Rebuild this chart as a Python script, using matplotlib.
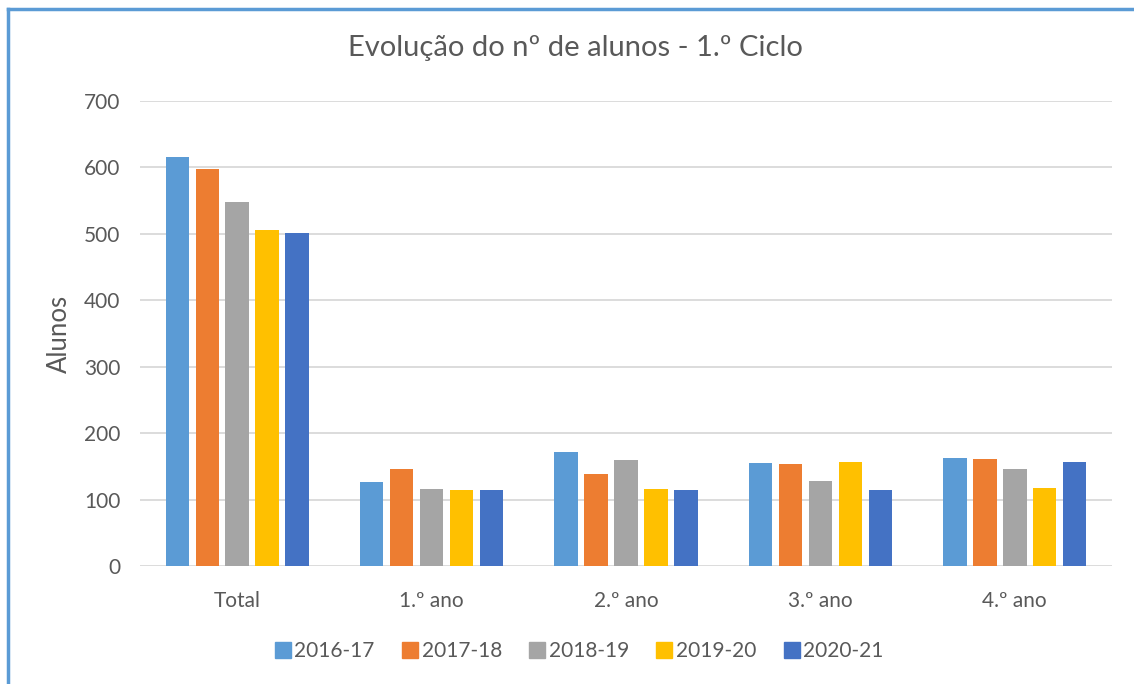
import numpy as np
import matplotlib
matplotlib.use("Agg")
import matplotlib.pyplot as plt
from matplotlib.lines import Line2D

plt.rcParams['font.family'] = ['Lato', 'DejaVu Sans']

# ---- data ----
categories = ["Total", "1.º ano", "2.º ano", "3.º ano", "4.º ano"]
series = ["2016-17", "2017-18", "2018-19", "2019-20", "2020-21"]
v_2016 = [616, 127, 171, 155, 163]
v_2017 = [598, 146, 139, 154, 161]
v_2018 = [548, 116, 160, 128, 146]
v_2019 = [506, 115, 116, 157, 118]
v_2020 = [501, 115, 115, 115, 157]
values = [v_2016, v_2017, v_2018, v_2019, v_2020]
colors = ["#5B9BD5", "#ED7D31", "#A5A5A5", "#FFC000", "#4472C4"]

txt = "#595959"
W, H = 1134, 684
fig = plt.figure(figsize=(W / 100, H / 100), dpi=100)
ax = fig.add_axes([140 / W, 1 - 566 / H, (1112 - 140) / W, (566 - 101) / H])

x = np.arange(len(categories))
step, width = 0.154, 0.121
for i, (name, vals) in enumerate(zip(series, values)):
    ax.bar(x + (i - 2) * step, vals, width, color=colors[i], label=name, zorder=3)

ax.set_xlim(-0.5, len(categories) - 0.5)
ax.set_ylim(0, 700)
ax.set_yticks(range(0, 701, 100))
ax.set_xticks(x)
ax.set_xticklabels(categories)
ax.grid(axis='y', color="#D9D9D9", linewidth=1.3, zorder=0)
for s in ax.spines.values():
    s.set_visible(False)
ax.tick_params(axis='both', length=0, labelsize=15, colors=txt)
ax.tick_params(axis='y', pad=14)
ax.tick_params(axis='x', pad=18)
ax.set_ylabel("Alunos", fontsize=18.5, color=txt)
ax.yaxis.set_label_coords(-68 / 972, 0.5)

fig.text(575 / W, 1 - 48 / H, "Evolução do nº de alunos - 1.º Ciclo",
         ha='center', va='center', fontsize=21, color=txt)

handles = [Line2D([], [], marker='s', linestyle='none', markersize=11,
                  markerfacecolor=c, markeredgecolor=c) for c in colors]
fig.legend(handles, series, loc='center', bbox_to_anchor=(578 / W, 1 - 651 / H),
           ncol=5, frameon=False, fontsize=15, labelcolor=txt,
           handletextpad=0.05, columnspacing=1.2, handlelength=1.0)

# chart border (left and top visible)
fig.add_artist(Line2D([8 / W, 8 / W], [0, 1 - 9 / H], color="#5B9BD5", linewidth=2.5))
fig.add_artist(Line2D([8 / W, 1], [1 - 9 / H, 1 - 9 / H], color="#5B9BD5", linewidth=2.5))

fig.savefig("out.png", dpi=100)
